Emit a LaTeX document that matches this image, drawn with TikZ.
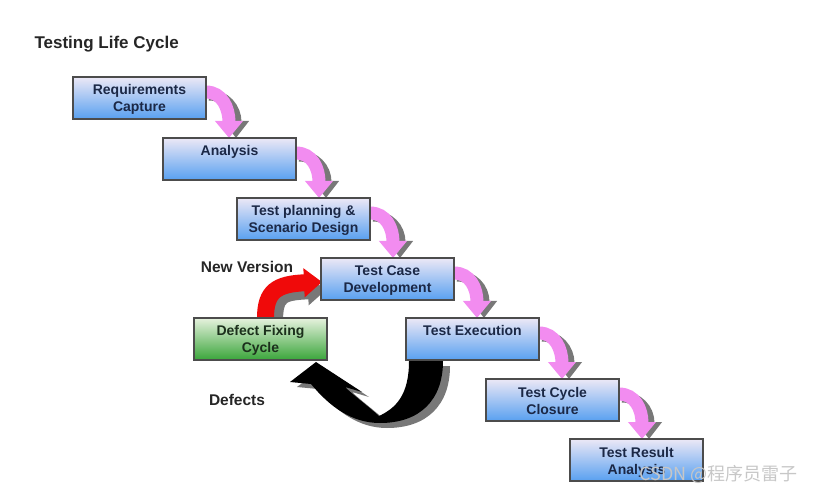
\documentclass[tikz,border=0pt]{standalone}
\usepackage{fontspec}
\setmainfont{Liberation Sans}
\newfontfamily\cjkfont{Noto Sans CJK SC}
\usetikzlibrary{arrows.meta,calc}
\pgfdeclarelayer{behind}
\pgfsetlayers{behind,main}
\definecolor{boxtop}{RGB}{236,232,246}
\definecolor{boxbot}{RGB}{88,160,240}
\definecolor{greentop}{RGB}{230,242,222}
\definecolor{greenbot}{RGB}{58,165,58}
\definecolor{pinkc}{RGB}{242,140,240}
\definecolor{shadowc}{RGB}{120,120,120}
\definecolor{txtc}{RGB}{27,40,70}
\definecolor{gtxtc}{RGB}{28,48,28}
\definecolor{redc}{RGB}{240,10,10}
\newcommand\boxtxt[1]{\parbox[c][38pt][t]{129pt}{\centering\rule{0pt}{16pt}#1}}
\newcommand\steparrow[2]{%
  \coordinate (#1-a) at ($(#1.north east)+(0,15)$);
  \coordinate (#1-t) at ($(#1.north east)+(23,0)$);
  \coordinate (#1-b) at (#1-t |- #2.north);
  \draw[pinkshadow] ($(#1-a)+(3,3)$) .. controls +(16,0) and +(0,-30) .. ($(#1-b)+(7,0)$);
  \draw[pinkarrow] (#1-a) .. controls +(16,0) and +(0,-30) .. (#1-b);
}
\tikzset{
  lcbox/.style={draw=black!70, line width=1.3pt, top color=boxtop, bottom color=boxbot,
    inner sep=2pt, outer sep=0pt, anchor=north west, text=txtc,
    font=\fontsize{14}{17}\selectfont\bfseries},
  greenbox/.style={lcbox, top color=greentop, bottom color=greenbot, text=gtxtc},
  pinkarrow/.style={draw=pinkc, line width=13pt, -{Triangle[width=27pt,length=17pt]}},
  pinkshadow/.style={draw=shadowc, line width=11pt, -{Triangle[width=25pt,length=17pt]}},
  redarrow/.style={draw=redc, line width=17pt, -{Triangle[width=28pt,length=18pt]}},
  redshadow/.style={draw=shadowc, line width=17pt, -{Triangle[width=28pt,length=18pt]}},
  lbl/.style={font=\fontsize{15.5}{18}\selectfont\bfseries, text=black!85},
}
\begin{document}
\begin{tikzpicture}[x=1pt,y=-1pt]
\useasboundingbox (0,0) rectangle (822,494);
\node[font=\fontsize{17}{20}\selectfont\bfseries, text=black!85, anchor=west] (title) at (31,44) {Testing Life Cycle};
\node[lcbox] (r1) at (73,77) {\boxtxt{Requirements\\Capture}};
\node[lcbox] (r2) at (163,138) {\boxtxt{Analysis}};
\node[lcbox] (r3) at (237,198) {\boxtxt{Test planning \&\\Scenario Design}};
\node[lcbox] (r4) at (321,258) {\boxtxt{Test Case\\Development}};
\node[greenbox] (df) at (194,318) {\boxtxt{Defect Fixing\\Cycle}};
\node[lcbox] (r5) at (406,318) {\boxtxt{Test Execution}};
\node[lcbox] (r6) at (486,379) {\boxtxt{Test Cycle\\Closure}};
\node[lcbox] (r7) at (570,439) {\boxtxt{Test Result\\Analysis}};
\begin{pgfonlayer}{behind}
\steparrow{r1}{r2}
\steparrow{r2}{r3}
\steparrow{r3}{r4}
\steparrow{r4}{r5}
\steparrow{r5}{r6}
\steparrow{r6}{r7}
% new version arrow
\coordinate (ra) at ($(df.north)+(5,0)$);
\coordinate (rb) at ($(r4.west)+(1,3)$);
\draw[redshadow] ($(ra)+(9,4)$) .. controls +(0,-27) and +(-45,2) .. ($(rb)+(4,8)$);
\draw[redarrow] (ra) .. controls +(0,-27) and +(-45,2) .. (rb);
% defects arrow
\fill[shadowc, shift={(7,5)}] (409,361) .. controls (409,395) and (396,408) .. (379,416)
  .. controls (368,406) and (352,394) .. (345,387) -- (362,392) -- (316,362) -- (290,382) -- (311,384)
  .. controls (330,407) and (352,423) .. (380,423) .. controls (420,423) and (443,400) .. (443,361) -- cycle;
\fill[black] (409,361) .. controls (409,395) and (396,408) .. (379,416)
  .. controls (368,406) and (352,394) .. (345,387) -- (362,392) -- (316,362) -- (290,382) -- (311,384)
  .. controls (330,407) and (352,423) .. (380,423) .. controls (420,423) and (443,400) .. (443,361) -- cycle;
\end{pgfonlayer}
\node[lbl] (nv) at (247,267) {New Version};
\node[lbl] (dl) at (237,400) {Defects};
\node[font=\cjkfont\fontsize{18}{20}\selectfont, text=black!22, anchor=west] (wm) at (636,474) {CSDN @程序员雷子};
\end{tikzpicture}
\end{document}
